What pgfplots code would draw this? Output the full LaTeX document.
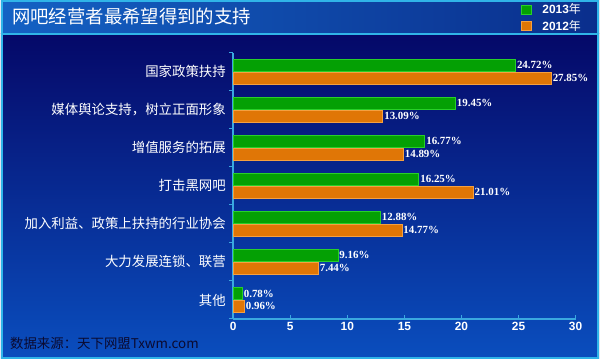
\documentclass[border=0pt]{standalone}
\usepackage{pgfplots}
\pgfplotsset{compat=1.18}
\usepackage{fontspec}
\setmainfont{Liberation Sans}
\newfontfamily\cjk{Noto Sans CJK SC}
\newfontfamily\tnr{Liberation Serif}
\definecolor{bgtop}{HTML}{050868}
\definecolor{bgmid}{HTML}{0A2A92}
\definecolor{bgbot}{HTML}{0A4EBE}
\definecolor{titleL}{HTML}{1462C4}
\definecolor{titleR}{HTML}{0A2E8C}
\definecolor{edge}{HTML}{30B4E8}
\definecolor{axisc}{HTML}{3AA8E0}
\definecolor{barG}{HTML}{04A004}
\definecolor{barGd}{HTML}{28D028}
\definecolor{barO}{HTML}{E07606}
\definecolor{barOd}{HTML}{F5A040}
\definecolor{srcc}{HTML}{0A0A30}
\begin{document}
\begin{tikzpicture}[x=1bp,y=1bp]
\shade[top color=bgtop, middle color=bgmid, bottom color=bgbot] (0,0) rectangle (600,326);
\shade[left color=titleL, right color=titleR] (0,326) rectangle (600,360);
\draw[edge, line width=2bp] (0,326) -- (600,326);
\draw[edge, line width=2bp] (1,1) rectangle (599,359);
\node[anchor=west, text=white, font=\cjk\fontsize{18.5}{20}\selectfont, inner sep=0] at (11,343) {网吧经营者最希望得到的支持};
\node[anchor=west, text=srcc, font=\cjk\fontsize{13.5}{15}\selectfont, inner sep=0] at (9,15) {数据来源：天下网盟Txwm.com};
\begin{axis}[
  at={(233bp,40bp)}, anchor=south west,
  scale only axis, width=343.5bp, height=267bp,
  xmin=0, xmax=30, ymin=-0.5, ymax=6.5,
  xbar, bar width=12bp,
  axis x line=bottom, axis y line=left,
  axis line style={axisc, line width=1.5bp, -},
  xtick={0,5,...,30},
  ytick={-0.5,0.5,...,6.5}, yticklabels={},
  major tick length=4bp,
  x tick style={axisc, line width=1bp},
  y tick style={axisc, line width=1bp},
  xtick align=inside, ytick align=outside,
  /pgf/number format/assume math mode=true,
  extra y ticks={0,1,2,3,4,5,6},
  extra y tick labels={其他,大力发展连锁、联营,加入利益、政策上扶持的行业协会,打击黑网吧,增值服务的拓展,媒体舆论支持，树立正面形象,国家政策扶持},
  extra y tick style={major tick length=0pt, yticklabel style={font=\cjk\fontsize{13.5}{14}\selectfont, text=white, xshift=-4bp}},
  xticklabel style={font=\bfseries\fontsize{12}{13}\selectfont, text=white},
  point meta=x,
  nodes near coords={\pgfmathprintnumber[fixed,fixed zerofill,precision=2]{\pgfplotspointmeta}\%},
  nodes near coords style={font=\tnr\bfseries\fontsize{11}{12}\selectfont, text=white, anchor=west, inner sep=1.5bp},
  legend entries={{\bfseries 2013}{\cjk 年},{\bfseries 2012}{\cjk 年}},
  legend style={at={(0.841,1.193)}, anchor=north west, draw=none, fill=none, font=\fontsize{12}{13}\selectfont, text=white, row sep=1bp, inner sep=0pt},
  legend cell align=left,
  legend image code/.code={\fill[#1] (0bp,-4.5bp) rectangle (10bp,4.5bp); \path[draw=none, fill=none] (0bp,0bp) -- (19bp,0bp);},
  clip=false,
]
\addplot[fill=barG, draw=barGd, bar shift=6.5bp] coordinates {(0.78,0) (9.16,1) (12.88,2) (16.25,3) (16.77,4) (19.45,5) (24.72,6)};
\addplot[fill=barO, draw=barOd, bar shift=-6.5bp] coordinates {(0.96,0) (7.44,1) (14.77,2) (21.01,3) (14.89,4) (13.09,5) (27.85,6)};
\end{axis}
\path[use as bounding box] (0,0) rectangle (600,360);
\end{tikzpicture}
\end{document}
